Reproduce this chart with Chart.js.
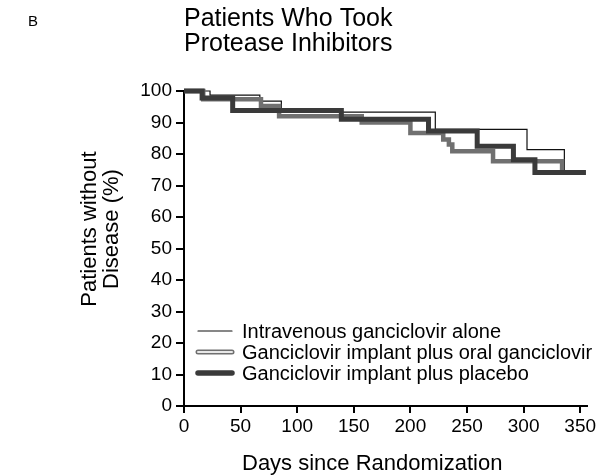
<!DOCTYPE html>
<html>
<head>
<meta charset="utf-8">
<script src="https://cdn.jsdelivr.net/npm/chart.js@4.4.0/dist/chart.umd.min.js"></script>
<style>
  body { margin: 0; background: #fff; }
  canvas { display: block; }
</style>
</head>
<body>
<canvas id="kmChart" width="599" height="475"></canvas>
<script>
// Kaplan-Meier steps (day of event, % without disease after it)
const ivDays = [0, 23, 67, 86, 222, 303, 336, 355];
const ivSurv = [100, 98.7, 96.8, 93.3, 87.8, 81.4, 74.1, 74.1];

const oralDays = [0, 17, 68, 84, 157, 200, 229, 234, 237, 273, 334, 355];
const oralSurv = [100, 97.4, 95.2, 92.0, 90.0, 86.7, 84.6, 83.0, 80.9, 77.7, 74.1, 74.1];

const placeboDays = [0, 16, 43, 139, 216, 259, 291, 310, 355];
const placeboSurv = [100, 97.8, 93.8, 91.0, 87.3, 82.5, 78.2, 74.1, 74.1];

const seriesNames = [
    "Intravenous ganciclovir alone",
    "Ganciclovir implant plus oral ganciclovir",
    "Ganciclovir implant plus placebo"
];

const xTicks = [0, 50, 100, 150, 200, 250, 300, 350];
const yTicks = [0, 10, 20, 30, 40, 50, 60, 70, 80, 90, 100];

const panelLabel = "B";
const titleLines = ["Patients Who Took", "Protease Inhibitors"];
const xTitle = "Days since Randomization";
const yTitle = ["Patients without", "Disease (%)"];

const FONT = "'Liberation Sans', Arial, sans-serif";

function toPoints(days, surv) {
    return days.map((d, i) => ({ x: d, y: surv[i] }));
}

const ivPoints = toPoints(ivDays, ivSurv);
const oralPoints = toPoints(oralDays, oralSurv);
const placeboPoints = toPoints(placeboDays, placeboSurv);

// titles, axis titles and the in-plot legend
const textPlugin = {
    id: "figureText",
    afterDraw(chart) {
        const ctx = chart.ctx;
        ctx.save();
        ctx.fillStyle = "#000";
        ctx.textBaseline = "alphabetic";

        ctx.font = "15px " + FONT;
        ctx.fillText(panelLabel, 28, 26);

        ctx.font = "25px " + FONT;
        titleLines.forEach((t, i) => ctx.fillText(t, 184, 26 + i * 25));

        ctx.font = "22px " + FONT;
        ctx.fillText(xTitle, 242, 470);

        ctx.save();
        ctx.translate(96, 229);
        ctx.rotate(-Math.PI / 2);
        ctx.textAlign = "center";
        yTitle.forEach((t, i) => ctx.fillText(t, 0, i * 22));
        ctx.restore();

        // legend
        const rows = [331, 352, 373];
        const x0 = 198, x1 = 232;
        ctx.lineCap = "round";
        // thin
        ctx.strokeStyle = "#111";
        ctx.lineWidth = 1.2;
        ctx.beginPath(); ctx.moveTo(x0, rows[0]); ctx.lineTo(x1, rows[0]); ctx.stroke();
        // double
        ctx.strokeStyle = "#707070";
        ctx.lineWidth = 5;
        ctx.beginPath(); ctx.moveTo(x0, rows[1]); ctx.lineTo(x1, rows[1]); ctx.stroke();
        ctx.strokeStyle = "#e8e8e8";
        ctx.lineWidth = 2;
        ctx.beginPath(); ctx.moveTo(x0, rows[1]); ctx.lineTo(x1, rows[1]); ctx.stroke();
        // thick
        ctx.strokeStyle = "#3a3a3a";
        ctx.lineWidth = 5.5;
        ctx.beginPath(); ctx.moveTo(x0, rows[2]); ctx.lineTo(x1, rows[2]); ctx.stroke();

        ctx.font = "20px " + FONT;
        ctx.fillStyle = "#000";
        seriesNames.forEach((n, i) => ctx.fillText(n, 242, rows[i] + 7));
        ctx.restore();
    }
};

const ctx = document.getElementById("kmChart").getContext("2d");

new Chart(ctx, {
    type: "line",
    data: {
        datasets: [
            {
                label: seriesNames[2],
                data: placeboPoints,
                borderColor: "#3a3a3a",
                borderWidth: 5
            },
            {
                label: seriesNames[1],
                data: oralPoints,
                borderColor: "#707070",
                borderWidth: 4.5
            },
            {
                label: seriesNames[1] + " (inner)",
                data: oralPoints,
                borderColor: "#d8d8d8",
                borderWidth: 1.6
            },
            {
                label: seriesNames[0],
                data: ivPoints,
                borderColor: "#111",
                borderWidth: 1.2
            }
        ]
    },
    options: {
        responsive: false,
        animation: false,
        events: [],
        datasets: {
            line: {
                stepped: "before",
                pointRadius: 0,
                fill: false,
                clip: 6
            }
        },
        layout: {
            padding: { left: 0, top: 91, right: 12, bottom: 0 }
        },
        plugins: {
            legend: { display: false },
            title: { display: false },
            tooltip: { enabled: false }
        },
        scales: {
            x: {
                type: "linear",
                min: 0,
                max: 356,
                afterBuildTicks: scale => { scale.ticks = xTicks.map(v => ({ value: v })); },
                afterFit: scale => { scale.height = 69; },
                border: { color: "#000", width: 2 },
                grid: { drawOnChartArea: false, drawTicks: true, tickLength: 7, color: "#000", lineWidth: 2 },
                ticks: {
                    color: "#000",
                    padding: 2,
                    maxRotation: 0,
                    font: { family: FONT, size: 19 }
                }
            },
            y: {
                type: "linear",
                min: 0,
                max: 100,
                afterBuildTicks: scale => { scale.ticks = yTicks.map(v => ({ value: v })); },
                afterFit: scale => { scale.width = 184; },
                border: { color: "#000", width: 2 },
                grid: { drawOnChartArea: false, drawTicks: true, tickLength: 8, color: "#000", lineWidth: 2 },
                ticks: {
                    color: "#000",
                    padding: 4,
                    font: { family: FONT, size: 19 }
                }
            }
        }
    },
    plugins: [textPlugin]
});
</script>
</body>
</html>
